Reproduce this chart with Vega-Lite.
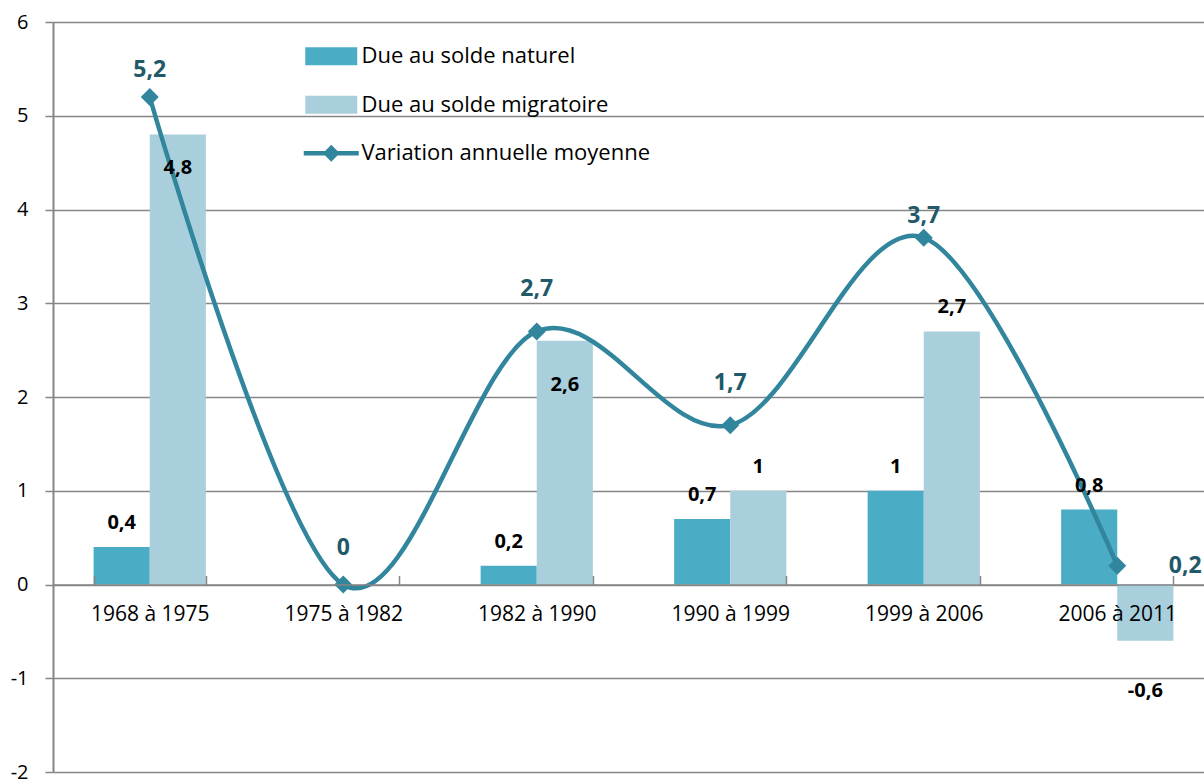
{
  "$schema": "https://vega.github.io/schema/vega-lite/v6.json",
  "width": 1151,
  "height": 750,
  "autosize": {"type": "none"},
  "padding": {"left": 53, "top": 22, "right": 0, "bottom": 9},
  "config": {
    "view": {"stroke": null},
    "font": "Open Sans",
    "locale": {"number": {"decimal": ",", "thousands": " ", "grouping": [3], "currency": ["", " €"], "minus": "-"}}
  },
  "datasets": {
    "barres": [
      {"periode": "1968 à 1975", "serie": "Due au solde naturel", "valeur": 0.4},
      {"periode": "1968 à 1975", "serie": "Due au solde migratoire", "valeur": 4.8},
      {"periode": "1982 à 1990", "serie": "Due au solde naturel", "valeur": 0.2},
      {"periode": "1982 à 1990", "serie": "Due au solde migratoire", "valeur": 2.6},
      {"periode": "1990 à 1999", "serie": "Due au solde naturel", "valeur": 0.7},
      {"periode": "1990 à 1999", "serie": "Due au solde migratoire", "valeur": 1},
      {"periode": "1999 à 2006", "serie": "Due au solde naturel", "valeur": 1},
      {"periode": "1999 à 2006", "serie": "Due au solde migratoire", "valeur": 2.7},
      {"periode": "2006 à 2011", "serie": "Due au solde naturel", "valeur": 0.8},
      {"periode": "2006 à 2011", "serie": "Due au solde migratoire", "valeur": -0.6}
    ],
    "variation": [
      {"periode": "1968 à 1975", "serie": "Variation annuelle moyenne", "valeur": 5.2},
      {"periode": "1975 à 1982", "serie": "Variation annuelle moyenne", "valeur": 0},
      {"periode": "1982 à 1990", "serie": "Variation annuelle moyenne", "valeur": 2.7},
      {"periode": "1990 à 1999", "serie": "Variation annuelle moyenne", "valeur": 1.7},
      {"periode": "1999 à 2006", "serie": "Variation annuelle moyenne", "valeur": 3.7},
      {"periode": "2006 à 2011", "serie": "Variation annuelle moyenne", "valeur": 0.2}
    ]
  },
  "encoding": {
    "x": {
      "field": "periode",
      "type": "nominal",
      "sort": null,
      "scale": {
        "domain": ["1968 à 1975", "1975 à 1982", "1982 à 1990", "1990 à 1999", "1999 à 2006", "2006 à 2011"],
        "range": [0, 1161],
        "paddingInner": 0.42,
        "paddingOuter": 0.21
      },
      "axis": {
        "title": null,
        "offset": -187.5,
        "zindex": 1,
        "labelAngle": 0,
        "labelFont": "Open Sans",
        "labelFontSize": 21,
        "labelColor": "#000000",
        "labelPadding": 28,
        "domainColor": "#868686",
        "domainWidth": 1.5,
        "tickBand": "extent",
        "tickColor": "#868686",
        "tickWidth": 1.5,
        "tickSize": -9,
        "grid": false
      }
    },
    "y": {
      "field": "valeur",
      "type": "quantitative",
      "scale": {"domain": [-2, 6], "nice": false, "zero": false},
      "axis": {
        "title": null,
        "values": [-2, -1, 0, 1, 2, 3, 4, 5, 6],
        "format": "d",
        "grid": true,
        "gridColor": "#868686",
        "gridWidth": 1.5,
        "domainColor": "#868686",
        "domainWidth": 2,
        "tickColor": "#868686",
        "tickWidth": 1.5,
        "tickSize": 8,
        "labelFont": "Open Sans",
        "labelFontSize": 20,
        "labelColor": "#000000",
        "labelPadding": 17
      }
    }
  },
  "layer": [
    {
      "data": {"name": "barres"},
      "mark": {"type": "bar"},
      "encoding": {
        "xOffset": {"field": "serie", "type": "nominal", "sort": null, "scale": {"domain": ["Due au solde naturel", "Due au solde migratoire"], "paddingInner": 0, "paddingOuter": 0}},
        "color": {
          "field": "serie",
          "type": "nominal",
          "scale": {
            "domain": ["Due au solde naturel", "Due au solde migratoire", "Variation annuelle moyenne"],
            "range": ["#4BACC6", "#A9CFDC", "#31859C"]
          },
          "legend": {
            "title": null,
            "orient": "none",
            "legendX": 253.75,
            "legendY": 9.75,
            "padding": 0,
            "symbolSize": 2352,
            "labelOffset": 5.75,
            "rowPadding": 12.5,
            "labelFont": "Open Sans",
            "labelFontSize": 22,
            "labelColor": "#000000",
            "labelLimit": 500,
            "symbolStrokeWidth": 0,
            "encode": {
              "symbols": {
                "update": {
                  "shape": {"signal": "datum.value === 'Variation annuelle moyenne' ? 'M-1.134,-0.095H1.134V0.095H-1.134Z M0,-0.35L0.35,0L0,0.35L-0.35,0Z' : 'M-1.072,-0.371H1.072V0.371H-1.072Z'"},
                  "fill": {"scale": "color", "field": "value"},
                  "strokeWidth": {"value": 0},
                  "opacity": {"value": 1},
                  "fillOpacity": {"value": 1}
                }
              }
            }
          }
        }
      }
    },
    {
      "data": {"name": "variation"},
      "mark": {"type": "line", "interpolate": "cardinal", "strokeWidth": 4.5},
      "encoding": {
        "color": {"field": "serie", "type": "nominal"}
      }
    },
    {
      "data": {"name": "variation"},
      "mark": {"type": "point", "shape": "diamond", "filled": true, "size": 324, "opacity": 1, "color": "#31859C"},
      "encoding": {}
    },
    {
      "data": {"name": "variation"},
      "transform": [{"filter": "datum.periode === '1968 à 1975'"}],
      "mark": {"type": "text", "fontSize": 23, "fontWeight": "bold", "color": "#215968", "baseline": "middle", "dy": -27},
      "encoding": {"text": {"field": "valeur", "type": "quantitative", "format": ".1~f"}}
    },
    {
      "data": {"name": "variation"},
      "transform": [{"filter": "datum.periode === '1975 à 1982'"}],
      "mark": {"type": "text", "fontSize": 23, "fontWeight": "bold", "color": "#215968", "baseline": "middle", "dy": -37},
      "encoding": {"text": {"field": "valeur", "type": "quantitative", "format": ".1~f"}}
    },
    {
      "data": {"name": "variation"},
      "transform": [{"filter": "datum.periode === '1982 à 1990' || datum.periode === '1990 à 1999'"}],
      "mark": {"type": "text", "fontSize": 23, "fontWeight": "bold", "color": "#215968", "baseline": "middle", "dy": -42},
      "encoding": {"text": {"field": "valeur", "type": "quantitative", "format": ".1~f"}}
    },
    {
      "data": {"name": "variation"},
      "transform": [{"filter": "datum.periode === '1999 à 2006'"}],
      "mark": {"type": "text", "fontSize": 23, "fontWeight": "bold", "color": "#215968", "baseline": "middle", "dy": -22},
      "encoding": {"text": {"field": "valeur", "type": "quantitative", "format": ".1~f"}}
    },
    {
      "data": {"name": "variation"},
      "transform": [{"filter": "datum.periode === '2006 à 2011'"}],
      "mark": {"type": "text", "fontSize": 23, "fontWeight": "bold", "color": "#215968", "baseline": "middle", "dx": 68, "dy": 0},
      "encoding": {"text": {"field": "valeur", "type": "quantitative", "format": ".1~f"}}
    },
    {
      "data": {"name": "barres"},
      "transform": [{"filter": "datum.valeur > 0 && !(datum.serie === 'Due au solde migratoire' && (datum.periode === '1968 à 1975' || datum.periode === '1982 à 1990'))"}],
      "mark": {"type": "text", "fontSize": 20, "fontWeight": "bold", "color": "#000000", "baseline": "middle", "dy": -24},
      "encoding": {
        "xOffset": {"field": "serie", "type": "nominal", "sort": null},
        "text": {"field": "valeur", "type": "quantitative", "format": ".1~f"}
      }
    },
    {
      "data": {"name": "barres"},
      "transform": [{"filter": "datum.serie === 'Due au solde migratoire' && datum.periode === '1968 à 1975'"}],
      "mark": {"type": "text", "fontSize": 20, "fontWeight": "bold", "color": "#000000", "baseline": "middle", "dy": 33},
      "encoding": {
        "xOffset": {"field": "serie", "type": "nominal", "sort": null},
        "text": {"field": "valeur", "type": "quantitative", "format": ".1~f"}
      }
    },
    {
      "data": {"name": "barres"},
      "transform": [{"filter": "datum.serie === 'Due au solde migratoire' && datum.periode === '1982 à 1990'"}],
      "mark": {"type": "text", "fontSize": 20, "fontWeight": "bold", "color": "#000000", "baseline": "middle", "dy": 44},
      "encoding": {
        "xOffset": {"field": "serie", "type": "nominal", "sort": null},
        "text": {"field": "valeur", "type": "quantitative", "format": ".1~f"}
      }
    },
    {
      "data": {"name": "barres"},
      "transform": [{"filter": "datum.valeur < 0"}],
      "mark": {"type": "text", "fontSize": 20, "fontWeight": "bold", "color": "#000000", "baseline": "middle", "dy": 50},
      "encoding": {
        "xOffset": {"field": "serie", "type": "nominal", "sort": null},
        "text": {"field": "valeur", "type": "quantitative", "format": ".1~f"}
      }
    }
  ]
}
